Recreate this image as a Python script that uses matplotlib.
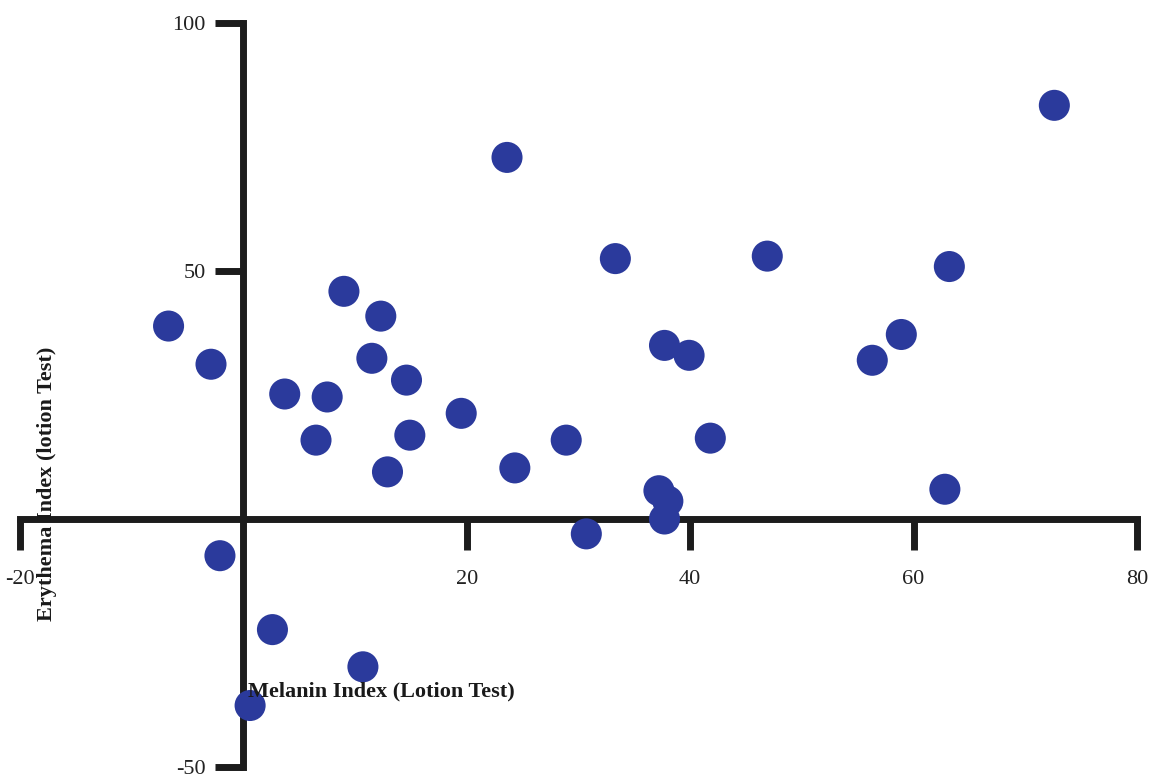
import matplotlib
matplotlib.use('Agg')
import matplotlib.pyplot as plt

# melanin index (x) vs erythema index (y), lotion test
melanin = [-6.7, -2.9, -2.1, 3.7, 6.5, 7.5, 9.0, 12.3, 11.5, 14.6, 14.9, 12.9,
           19.5, 23.6, 24.3, 28.9, 30.7, 33.3, 37.7, 39.9, 41.8, 37.2, 38.0,
           37.7, 46.9, 56.3, 58.9, 63.2, 62.8, 72.6, 2.6, 10.7, 0.6]
erythema = [38.9, 31.2, -7.4, 25.2, 15.9, 24.6, 45.9, 40.9, 32.4, 28.0, 16.9, 9.5,
            21.3, 72.9, 10.3, 15.9, -3.0, 52.5, 35.0, 33.0, 16.3, 5.7, 3.6,
            0.0, 53.0, 32.0, 37.2, 50.9, 6.0, 83.4, -22.3, -29.8, -37.6]

xticks = [-20, 20, 40, 60, 80]
yticks = [-50, 50, 100]

plt.rcParams['font.family'] = ['Liberation Serif', 'DejaVu Serif']
plt.rcParams['axes.unicode_minus'] = False

fig = plt.figure(figsize=(11.57, 7.77), dpi=100)
ax = fig.add_axes([20/1157, 10/777, 1117/1157, 744/777])

ax.scatter(melanin, erythema, s=500, color='#2b3a9c', edgecolors='none',
           zorder=3, clip_on=False)

ax.set_xlim(-20, 80)
ax.set_ylim(-50, 100)

for side in ['top', 'right']:
    ax.spines[side].set_visible(False)
for side in ['left', 'bottom']:
    ax.spines[side].set_position(('data', 0))
    ax.spines[side].set_linewidth(5)
    ax.spines[side].set_color('#1c1c1c')
    ax.spines[side].set_zorder(2)

ax.set_xticks(xticks)
ax.set_yticks(yticks)
ax.tick_params(axis='x', direction='out', length=22, width=5, color='#1c1c1c',
               pad=15, labelsize=16, labelcolor='#222222')
ax.tick_params(axis='y', direction='out', length=20, width=5, color='#1c1c1c',
               pad=7, labelsize=16, labelcolor='#222222')

ax.text(0.204, 0.102, 'Melanin Index (Lotion Test)', transform=ax.transAxes,
        ha='left', va='center', fontsize=16, fontweight='bold', color='#1a1a1a')
ax.text(0.024, 0.381, 'Erythema Index (lotion Test)', transform=ax.transAxes,
        ha='center', va='center', rotation=90, fontsize=16, fontweight='bold',
        color='#1a1a1a')

fig.savefig('out.png', dpi=100)
